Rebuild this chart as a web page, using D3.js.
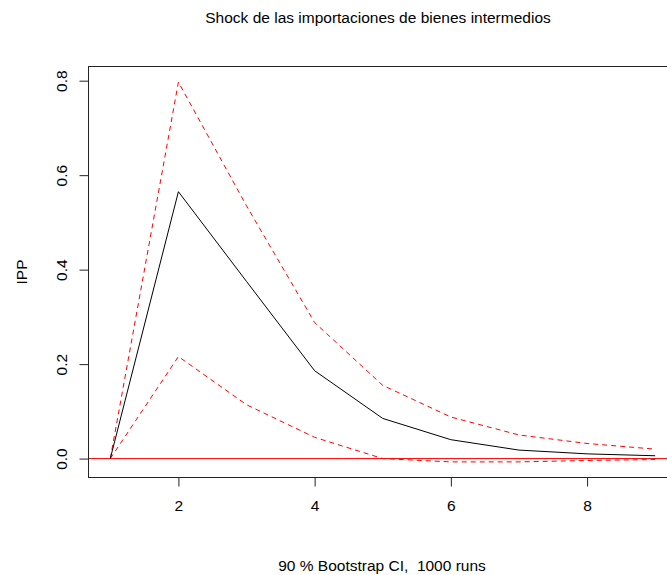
<!DOCTYPE html>
<html><head><meta charset="utf-8">
<script src="https://cdn.jsdelivr.net/npm/d3@7"></script>
<style>body{margin:0;background:#fff}svg{display:block}text{font-family:"Liberation Sans",Arial,sans-serif;fill:#000;white-space:pre}</style>
</head><body>
<script>
const steps = [1,2,3,4,5,6,7,8,9];
const irf   = [0, 0.565, 0.375, 0.186, 0.085, 0.040, 0.018, 0.010, 0.006];
const upper = [0, 0.797, 0.535, 0.288, 0.155, 0.088, 0.050, 0.032, 0.020];
const lower = [0, 0.216, 0.114, 0.045, 0.000, -0.007, -0.007, -0.004, -0.002];
const xTicks = [2,4,6,8];
const yTicks = [0.0,0.2,0.4,0.6,0.8];
const title = "Shock de las importaciones de bienes intermedios";
const xLabel = "90 % Bootstrap CI,  1000 runs";
const yLabel = "IPP";

const W=667,H=575, FS="15.5px";
const L=88.5, T=66.5, R=677, B=477.5;
const svg=d3.select("body").append("svg").attr("width",W).attr("height",H);
const x=d3.scaleLinear().domain([1-0.32,9+0.32]).range([L,R]);
const ymin=-0.0078, ymax=0.7978, rng=ymax-ymin;
const y=d3.scaleLinear().domain([ymin-0.04*rng, ymax+0.04*rng]).range([B,T]);

svg.append("line").attr("x1",L).attr("x2",W).attr("y1",y(0)).attr("y2",y(0))
  .attr("stroke","#ff0000").attr("stroke-width",1);

const line=d3.line().x((d,i)=>x(steps[i])).y(d=>y(d));
svg.append("path").datum(upper).attr("d",line).attr("fill","none").attr("stroke","#ff0000").attr("stroke-width",1).attr("stroke-dasharray","5,4");
svg.append("path").datum(lower).attr("d",line).attr("fill","none").attr("stroke","#ff0000").attr("stroke-width",1).attr("stroke-dasharray","5,4");
svg.append("path").datum(irf).attr("d",line).attr("fill","none").attr("stroke","#000").attr("stroke-width",1);

svg.append("rect").attr("x",L).attr("y",T).attr("width",R-L).attr("height",B-T)
  .attr("fill","none").attr("stroke","#222").attr("stroke-width",1);

const xa=svg.append("g").attr("transform",`translate(0,${B})`)
  .call(d3.axisBottom(x).tickValues(xTicks).tickFormat(d3.format("d")).tickSize(9).tickPadding(13));
xa.select(".domain").remove();
xa.selectAll("text").style("font-size",FS).attr("fill","#000");
xa.selectAll("line").attr("stroke","#222");

const ya=svg.append("g").attr("transform",`translate(${L},0)`)
  .call(d3.axisLeft(y).tickValues(yTicks).tickFormat(d3.format(".1f")).tickSize(9));
ya.select(".domain").remove();
ya.selectAll("line").attr("stroke","#222");
ya.selectAll("text").style("font-size",FS).attr("fill","#000")
  .attr("text-anchor","middle").attr("x",0).attr("y",0).attr("dy",null)
  .attr("transform","translate(-22,0) rotate(-90)");

svg.append("text").attr("x",378).attr("y",23).attr("text-anchor","middle").style("font-size",FS).text(title);
svg.append("text").attr("x",382).attr("y",571).attr("text-anchor","middle").style("font-size",FS).text(xLabel);
svg.append("text").attr("transform",`translate(27,${(T+B)/2}) rotate(-90)`).attr("text-anchor","middle").style("font-size",FS).text(yLabel);
</script>
</body></html>
